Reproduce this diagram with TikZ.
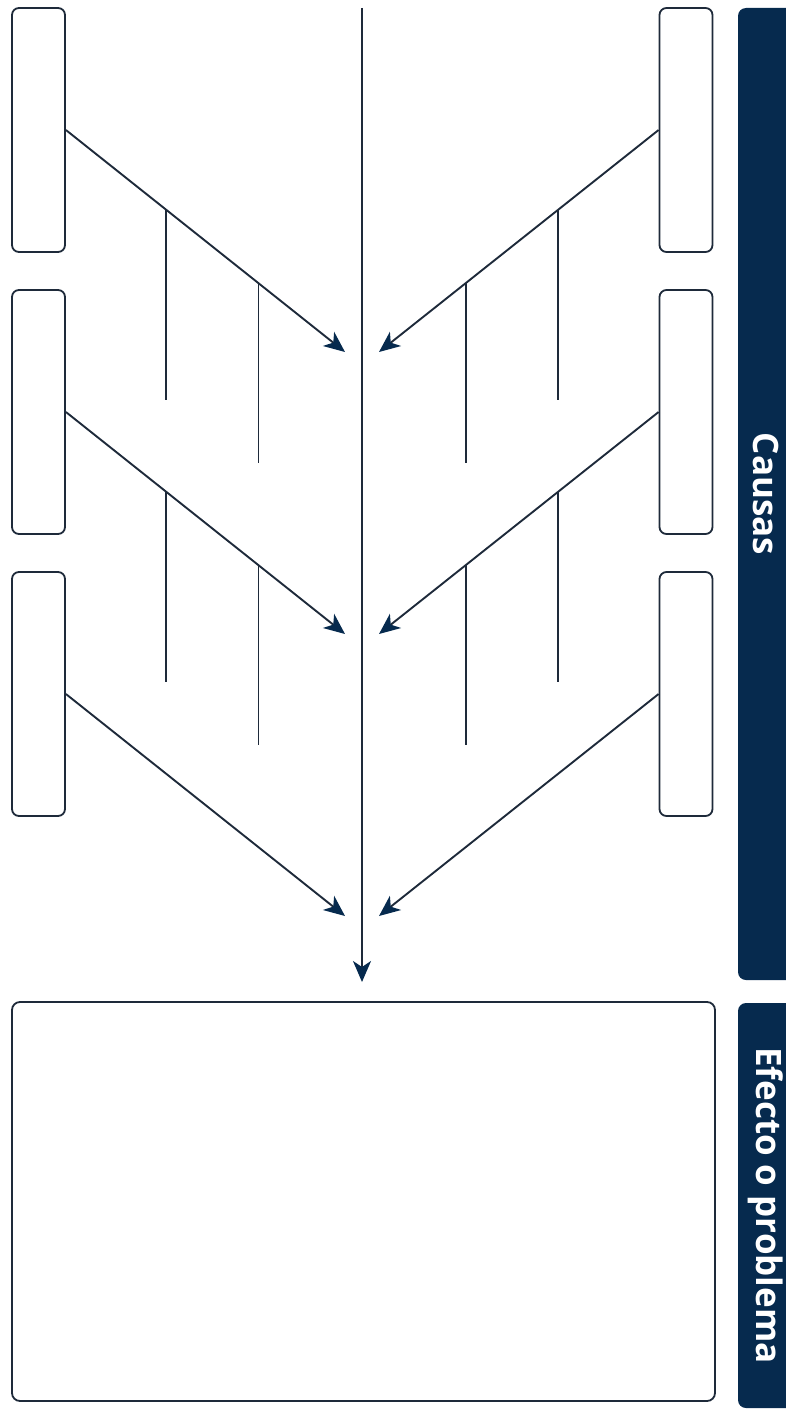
\documentclass[tikz,border=0pt]{standalone}
\usepackage{fontspec}
\setmainfont{Open Sans}
\usetikzlibrary{arrows.meta,calc}
\definecolor{NavyBar}{RGB}{6,42,78}
\definecolor{LineInk}{RGB}{30,42,58}
\tikzset{
  causebox/.style={draw=LineInk,line width=1.8pt,rounded corners=7pt,
    minimum width=53pt,minimum height=244pt,inner sep=0pt},
  sidebar/.style={fill=NavyBar,rounded corners=8pt,rotate=-90,text=white,
    font=\fontsize{35}{40}\selectfont\bfseries,inner sep=0pt,minimum height=56pt},
  bone/.style={draw=LineInk,line width=1.9pt,
    -{Stealth[length=21pt,width=18pt,inset=6pt,color=NavyBar]}},
  rib/.style={draw=LineInk,line width=1.9pt}
}

\begin{document}
\begin{tikzpicture}[x=1pt,y=-1pt]
  \useasboundingbox (0,0) rectangle (785,1410);

  % side bars
  \node[sidebar,minimum width=972pt] (causas) at (766,494) {Causas};
  \node[sidebar,minimum width=405pt] (efectobar) at (766,1205.5) {Efecto o problema};

  % effect box
  \node[draw=LineInk,line width=1.8pt,rounded corners=8pt,
        minimum width=703pt,minimum height=399pt] (efecto) at (363.5,1201.5) {};

  % spine
  \coordinate (spinetop) at (362,8);
  \coordinate (spinetip) at (362,982);
  \draw[bone] (spinetop) -- (spinetip);

  % cause boxes and bones
  \foreach \i/\y in {1/130,2/412,3/694}{
    \node[causebox] (l\i) at (38.5,\y) {};
    \node[causebox] (r\i) at (686,\y) {};
    \coordinate (lt\i) at (345,\y+222);
    \coordinate (rt\i) at (379,\y+222);
    \draw[bone] (l\i.east) -- (lt\i);
    \draw[bone] (r\i.west) -- (rt\i);
  }

  % sub-causes
  \foreach \i in {1,2}{
    \draw[rib] ($(l\i.east)!0.36!(lt\i)$) -- ++(0,190);
    \draw[rib] ($(l\i.east)!0.69!(lt\i)$) -- ++(0,180);
    \draw[rib] ($(r\i.west)!0.36!(rt\i)$) -- ++(0,190);
    \draw[rib] ($(r\i.west)!0.69!(rt\i)$) -- ++(0,180);
  }
\end{tikzpicture}
\end{document}
